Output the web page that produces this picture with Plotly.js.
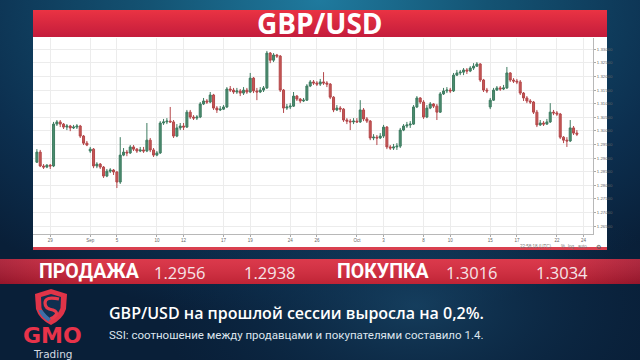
<!DOCTYPE html>
<html><head><meta charset="utf-8">
<script src="https://cdn.plot.ly/plotly-3.0.1.min.js"></script>
<style>html,body{margin:0;padding:0;background:#0b2744;overflow:hidden}#chart{width:640px;height:360px}</style>
</head><body><div id="chart"></div>
<script>
// ---- DATA (6-hour GBP/USD candles, 28 Aug – 23 Oct 2018) ----
const openP = [1.2885,1.2922,1.2871,1.2867,1.2874,1.2871,1.3025,1.3033,1.3025,1.3014,1.3018,1.3011,1.3014,1.3018,1.2981,1.2955,
1.2926,1.2933,1.2871,1.2878,1.2867,1.2834,1.2852,1.2856,1.2849,1.2812,1.2911,1.2922,1.2919,1.2941,1.2933,1.2926,1.2930,1.2926,1.2966,1.2930,
1.2911,1.2919,1.3029,1.3033,1.3036,1.3033,1.2981,1.3011,1.3018,1.3014,1.3069,1.3051,1.3047,1.3051,1.3099,1.3110,1.3106,1.3132,1.3084,1.3077,
1.3080,1.3088,1.3154,1.3150,1.3143,1.3147,1.3139,1.3150,1.3143,1.3194,1.3147,1.3143,1.3150,1.3158,1.3286,1.3260,1.3279,1.3275,1.3150,1.3084,
1.3088,1.3091,1.3128,1.3117,1.3110,1.3113,1.3165,1.3180,1.3176,1.3172,1.3180,1.3176,1.3172,1.3124,1.3077,1.3084,1.3080,1.3040,1.3036,1.3033,
1.3036,1.3033,1.3077,1.3044,1.3036,1.2974,1.2977,1.2974,1.2981,1.3014,1.2941,1.2937,1.2941,1.2944,1.3003,1.3018,1.3022,1.3025,1.3088,1.3121,
1.3106,1.3051,1.3084,1.3099,1.3091,1.3069,1.3136,1.3147,1.3150,1.3147,1.3205,1.3213,1.3216,1.3224,1.3220,1.3231,1.3238,1.3246,1.3187,1.3150,
1.3088,1.3113,1.3150,1.3158,1.3154,1.3158,1.3213,1.3187,1.3183,1.3180,1.3139,1.3121,1.3110,1.3106,1.3069,1.3022,1.3029,1.3025,1.3033,1.3069,
1.3066,1.3062,1.2977,1.2966,1.2963,1.3011,1.2992];
const highP = [1.2933,1.2930,1.2878,1.2878,1.2878,1.3033,1.3040,1.3040,1.3029,1.3025,1.3022,1.3022,1.3025,1.3022,1.2985,1.2963,
1.2941,1.2937,1.2885,1.2882,1.2871,1.2860,1.2863,1.2860,1.2852,1.2977,1.2937,1.2930,1.2948,1.2948,1.2937,1.2941,1.2941,1.3029,1.2974,1.2937,
1.2926,1.3036,1.3044,1.3047,1.3088,1.3040,1.3025,1.3029,1.3029,1.3077,1.3077,1.3058,1.3058,1.3106,1.3121,1.3117,1.3143,1.3136,1.3091,1.3091,
1.3095,1.3161,1.3165,1.3158,1.3158,1.3154,1.3161,1.3158,1.3213,1.3198,1.3158,1.3161,1.3165,1.3294,1.3290,1.3286,1.3283,1.3279,1.3154,1.3099,
1.3102,1.3143,1.3132,1.3121,1.3121,1.3172,1.3187,1.3187,1.3183,1.3191,1.3216,1.3183,1.3176,1.3128,1.3095,1.3091,1.3084,1.3047,1.3044,1.3047,
1.3047,1.3113,1.3084,1.3051,1.3040,1.2988,1.2985,1.2992,1.3022,1.3018,1.2948,1.2952,1.2955,1.3011,1.3025,1.3033,1.3036,1.3095,1.3128,1.3124,
1.3113,1.3095,1.3106,1.3102,1.3099,1.3143,1.3158,1.3161,1.3158,1.3213,1.3224,1.3224,1.3231,1.3231,1.3238,1.3249,1.3253,1.3249,1.3191,1.3158,
1.3121,1.3158,1.3165,1.3165,1.3169,1.3235,1.3216,1.3194,1.3191,1.3187,1.3143,1.3128,1.3117,1.3110,1.3077,1.3040,1.3036,1.3044,1.3102,1.3077,
1.3073,1.3066,1.2981,1.2977,1.3040,1.3018,1.3003];
const lowP = [1.2882,1.2867,1.2860,1.2863,1.2860,1.2867,1.3018,1.3014,1.3007,1.3003,1.2999,1.3007,1.3007,1.2974,1.2948,1.2944,
1.2919,1.2863,1.2863,1.2860,1.2827,1.2830,1.2845,1.2838,1.2790,1.2805,1.2907,1.2907,1.2915,1.2926,1.2919,1.2922,1.2919,1.2922,1.2922,1.2904,
1.2907,1.2915,1.3022,1.3025,1.3029,1.2974,1.2977,1.3003,1.3003,1.3011,1.3044,1.3040,1.3040,1.3047,1.3095,1.3099,1.3102,1.3077,1.3066,1.3073,
1.3077,1.3084,1.3143,1.3136,1.3136,1.3128,1.3132,1.3136,1.3139,1.3139,1.3113,1.3139,1.3143,1.3154,1.3249,1.3253,1.3268,1.3143,1.3066,1.3077,
1.3080,1.3088,1.3110,1.3102,1.3106,1.3110,1.3161,1.3169,1.3165,1.3165,1.3169,1.3161,1.3117,1.3069,1.3073,1.3069,1.3033,1.3025,1.3003,1.3025,
1.3029,1.3029,1.3036,1.3029,1.2966,1.2966,1.2948,1.2970,1.2974,1.2933,1.2930,1.2930,1.2930,1.2937,1.2999,1.3011,1.3011,1.3022,1.3084,1.3099,
1.3044,1.3047,1.3080,1.3084,1.3040,1.3066,1.3132,1.3139,1.3139,1.3143,1.3202,1.3205,1.3205,1.3209,1.3216,1.3224,1.3235,1.3180,1.3143,1.3139,
1.3080,1.3110,1.3147,1.3147,1.3150,1.3154,1.3180,1.3176,1.3172,1.3132,1.3110,1.3102,1.3099,1.3062,1.3014,1.3018,1.3018,1.3022,1.3029,1.3058,
1.3055,1.2970,1.2955,1.2941,1.2959,1.2985,1.2981];
const closeP = [1.2922,1.2871,1.2867,1.2874,1.2871,1.3025,1.3033,1.3025,1.3014,1.3018,1.3011,1.3014,1.3018,1.2981,1.2955,1.2948,
1.2933,1.2871,1.2878,1.2867,1.2834,1.2852,1.2856,1.2849,1.2812,1.2911,1.2922,1.2919,1.2941,1.2933,1.2926,1.2930,1.2926,1.2966,1.2930,1.2911,
1.2919,1.3029,1.3033,1.3036,1.3033,1.2981,1.3011,1.3018,1.3014,1.3069,1.3051,1.3047,1.3051,1.3099,1.3110,1.3106,1.3132,1.3084,1.3077,1.3080,
1.3088,1.3154,1.3150,1.3143,1.3147,1.3139,1.3150,1.3143,1.3194,1.3147,1.3143,1.3150,1.3158,1.3286,1.3260,1.3279,1.3275,1.3150,1.3084,1.3088,
1.3091,1.3128,1.3117,1.3110,1.3113,1.3165,1.3180,1.3176,1.3172,1.3180,1.3176,1.3172,1.3124,1.3077,1.3084,1.3080,1.3040,1.3036,1.3033,1.3036,
1.3033,1.3077,1.3044,1.3036,1.2974,1.2977,1.2974,1.2981,1.3014,1.2941,1.2937,1.2941,1.2944,1.3003,1.3018,1.3022,1.3025,1.3088,1.3121,1.3106,
1.3051,1.3084,1.3099,1.3091,1.3069,1.3136,1.3147,1.3150,1.3147,1.3205,1.3213,1.3216,1.3224,1.3220,1.3231,1.3238,1.3246,1.3187,1.3150,1.3147,
1.3113,1.3150,1.3158,1.3154,1.3158,1.3213,1.3187,1.3183,1.3180,1.3139,1.3121,1.3110,1.3106,1.3069,1.3022,1.3029,1.3025,1.3033,1.3069,1.3066,
1.3062,1.2977,1.2966,1.2963,1.3011,1.2992,1.2988];
const tickDates = ['2018-08-29','2018-09-03','2018-09-05','2018-09-10','2018-09-12','2018-09-17','2018-09-19','2018-09-24','2018-09-26',
  '2018-10-01','2018-10-03','2018-10-08','2018-10-10','2018-10-15','2018-10-17','2018-10-22','2018-10-24'];
const tickLabels = ['29','Sep','5','10','12','17','19','24','26','Oct','3','8','10','15','17','22','24'];
const yTickVals = [1.265,1.270,1.275,1.280,1.285,1.290,1.295,1.300,1.305,1.310,1.315,1.320,1.325,1.330];
const title = 'GBP/USD';
const sellLabel = 'ПРОДАЖА', sellPrices = ['1.2956','1.2938'];
const buyLabel = 'ПОКУПКА', buyPrices = ['1.3016','1.3034'];
const line1 = 'GBP/USD на прошлой сессии выросла на 0,2%.';
const line2 = 'SSI: соотношение между продавцами и покупателями составило 1.4.';

// ---- timestamps: 4 six-hour candles per weekday ----
const times = [];
{
  let t = Date.UTC(2018,7,28);
  const p = n => String(n).padStart(2,'0');
  while (times.length < closeP.length) {
    const dt = new Date(t), wd = dt.getUTCDay();
    if (wd !== 0 && wd !== 6) {
      for (let h = 0; h < 24 && times.length < closeP.length; h += 6)
        times.push(`${dt.getUTCFullYear()}-${p(dt.getUTCMonth()+1)}-${p(dt.getUTCDate())} ${p(h)}:00`);
    }
    t += 86400000;
  }
}

// ---- helpers (pixel -> paper) ----
const W = 640, H = 360;
const px = x => x / W, py = y => 1 - y / H;
const svgURI = s => 'data:image/svg+xml;charset=utf-8,' + encodeURIComponent(s);
const img = (src, x, y, w, h) => ({source: src, xref:'paper', yref:'paper', x: px(x), y: py(y),
  sizex: w / W, sizey: h / H, xanchor:'left', yanchor:'top', sizing:'stretch', layer:'below'});
const rect = (x0, y0, x1, y1, fill) => ({type:'rect', xref:'paper', yref:'paper', x0: px(x0), x1: px(x1),
  y0: py(y1), y1: py(y0), fillcolor: fill, line:{width:0}, layer:'below'});
const pathOf = pts => pts.map(s => s.replace(/(-?[\d.]+),(-?[\d.]+)/g, (m, a, b) => px(+a).toFixed(5) + ',' + py(+b).toFixed(5))).join(' ');

const bgSVG = `<svg xmlns='http://www.w3.org/2000/svg' width='640' height='360'><defs>
<radialGradient id='g' cx='0.5' cy='0' r='0.75' gradientTransform='scale(1,1.2)'>
<stop offset='0' stop-color='#1f7a9e'/><stop offset='0.35' stop-color='#145373'/><stop offset='0.75' stop-color='#0c2f4f'/><stop offset='1' stop-color='#091f38'/></radialGradient>
<radialGradient id='h' cx='0.65' cy='0.85' r='0.4'><stop offset='0' stop-color='#1a4a6c' stop-opacity='0.7'/><stop offset='1' stop-color='#0c2f4f' stop-opacity='0'/></radialGradient>
</defs><rect width='640' height='360' fill='url(#g)'/><rect width='640' height='360' fill='url(#h)'/></svg>`;
const hdrSVG = `<svg xmlns='http://www.w3.org/2000/svg' width='100' height='100' preserveAspectRatio='none'><defs>
<linearGradient id='r' x1='0' y1='0' x2='0' y2='1'><stop offset='0' stop-color='#ea3343'/><stop offset='1' stop-color='#c41c3c'/></linearGradient></defs>
<rect width='100' height='100' fill='url(#r)'/></svg>`;
const barSVG = `<svg xmlns='http://www.w3.org/2000/svg' width='100' height='100' preserveAspectRatio='none'><defs>
<linearGradient id='r' x1='0' y1='0' x2='1' y2='0'><stop offset='0' stop-color='#a81830'/><stop offset='0.15' stop-color='#d8283c'/><stop offset='0.85' stop-color='#d8283c'/><stop offset='1' stop-color='#a81830'/></linearGradient>
<linearGradient id='v' x1='0' y1='0' x2='0' y2='1'><stop offset='0' stop-color='#ffffff' stop-opacity='0.08'/><stop offset='1' stop-color='#000000' stop-opacity='0.12'/></linearGradient></defs>
<rect width='100' height='100' fill='url(#r)'/><rect width='100' height='100' fill='url(#v)'/></svg>`;

const trace = {
  type:'candlestick', x: times, open: openP, high: highP, low: lowP, close: closeP,
  increasing:{line:{color:'#3e7c61', width:1}, fillcolor:'#4b8c6f'},
  decreasing:{line:{color:'#b4474a', width:1}, fillcolor:'#c65855'},
  whiskerwidth:0, hoverinfo:'skip', showlegend:false
};

const ann = (text, x, y, size, color, opts={}) => Object.assign({text, xref:'paper', yref:'paper', x: px(x), y: py(y),
  showarrow:false, xanchor:'left', yanchor:'middle', font:{family:'Open Sans', size, color}}, opts);
const small = {family:'Arial', size:4.5, color:'#777'};

const layout = {
  width: W, height: H, margin:{l:0,r:0,t:0,b:0}, boxgap:0.15,
  paper_bgcolor:'#0b2744', plot_bgcolor:'#ffffff',
  xaxis:{type:'date', domain:[px(33), px(593)], range:['2018-08-27 17:00','2018-10-24 17:00'],
    rangebreaks:[{bounds:['sat','mon']}], rangeslider:{visible:false},
    tickvals: tickDates, ticktext: tickLabels, ticks:'outside', ticklen:2, tickcolor:'#aaa',
    tickfont:{family:'Arial', size:4.5, color:'#666'}, showgrid:true, gridcolor:'#ececec', gridwidth:1,
    showline:true, linecolor:'#b8b8b8', linewidth:1, zeroline:false, fixedrange:true},
  yaxis:{domain:[py(234), py(38)], range:[1.2621, 1.33415], side:'right', tickvals: yTickVals,
    tickformat:'.5f', ticks:'outside', ticklen:2, tickcolor:'#aaa',
    tickfont:{family:'Arial', size:4.3, color:'#666'}, showgrid:true, gridcolor:'#ececec', gridwidth:1,
    showline:true, linecolor:'#b8b8b8', linewidth:1, zeroline:false, fixedrange:true},
  images:[
    img(svgURI(bgSVG), 0, 0, 640, 360),
    img(svgURI(hdrSVG), 33, 10, 574, 27),
    img(svgURI(barSVG), 0, 259, 640, 25)
  ],
  shapes:[
    rect(33, 37, 607, 248, '#ffffff'),
    rect(33, 247, 607, 250, '#d9404f'),
    // logo shield
    {type:'path', xref:'paper', yref:'paper', layer:'above', fillcolor:'#e03448', line:{width:0},
     path: pathOf(['M35,294','L51,289','L67,294','L66,309','Q63,319 51,325','Q39,319 36,309','Z'])},
    {type:'path', xref:'paper', yref:'paper', layer:'above', fillcolor:'#0f2f50', line:{width:0},
     path: pathOf(['M41,297','L51,294','L61,297','L60.5,308','Q58,315 51,320','Q44,315 41.5,308','Z'])},
    {type:'path', xref:'paper', yref:'paper', layer:'above', fillcolor:'rgba(0,0,0,0)', line:{width:3.2, color:'#e63a4c'},
     path: pathOf(['M59,299','Q45,296 45,303','Q45,309 53,310','Q58,312 56,315','Q54,318 50,319'])},
    {type:'path', xref:'paper', yref:'paper', layer:'above', fillcolor:'#3d6fa8', line:{width:0},
     path: pathOf(['M42,310','Q46,315 51,319','Q47,321 51,323','Q41,318 38.5,310','Z'])}
  ],
  annotations:[
    ann(title, 320, 23.5, 28, '#ffffff', {xanchor:'center', font:{family:'Open Sans', size:28, color:'#ffffff', weight:700}}),
    ann(sellLabel, 37, 271.5, 19.5, '#ffffff', {font:{family:'Roboto', size:19.5, color:'#ffffff', weight:700}}),
    ann(sellPrices[0], 180, 272, 16.5, '#f6e4e7', {xanchor:'center'}),
    ann(sellPrices[1], 270, 272, 16.5, '#f6e4e7', {xanchor:'center'}),
    ann(buyLabel, 335, 271.5, 19.5, '#ffffff', {font:{family:'Roboto', size:19.5, color:'#ffffff', weight:700}}),
    ann(buyPrices[0], 472, 272, 16.5, '#f6e4e7', {xanchor:'center'}),
    ann(buyPrices[1], 562, 272, 16.5, '#f6e4e7', {xanchor:'center'}),
    ann(line1, 107, 313, 16, '#ffffff', {font:{family:'Open Sans', size:16, color:'#ffffff', weight:600}}),
    ann(line2, 107, 335, 11.5, '#dde5ee', {font:{family:'Roboto', size:11.5, color:'#dde5ee'}}),
    ann('GMO', 52, 335.5, 22, '#e8334a', {xanchor:'center', borderpad:0, font:{family:'DejaVu Sans', size:22, color:'#e8334a', weight:700}}),
    ann('Trading', 53, 354, 10.5, '#d4dae1', {xanchor:'center', borderpad:0, font:{family:'DejaVu Sans', size:10.5, color:'#d4dae1'}}),
    ann('22:58:18 (UTC)', 553, 246, 4.5, '#777', {xanchor:'right', borderpad:0, font:small}),
    ann('%', 560, 246, 4.5, '#777', {borderpad:0, font:small}),
    ann('log', 567, 246, 4.5, '#777', {borderpad:0, font:small}),
    ann('auto', 577, 246, 4.5, '#777', {borderpad:0, font:small}),
    ann('⚙', 598, 246, 6, '#555', {xanchor:'center', borderpad:0, font:{family:'DejaVu Sans', size:6, color:'#555'}})
  ]
};

Plotly.newPlot('chart', [trace], layout, {staticPlot:true, displayModeBar:false});
</script></body></html>
